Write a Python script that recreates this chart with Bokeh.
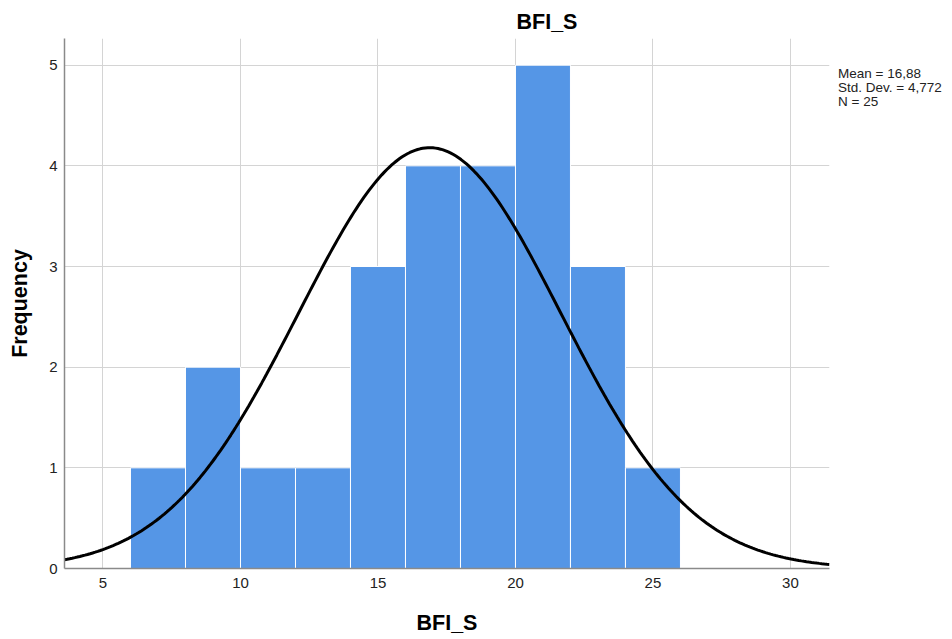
import numpy as np
from bokeh.plotting import figure
from bokeh.models import Range1d, FixedTicker, ColumnDataSource, Div
from bokeh.layouts import row
from bokeh.embed import file_html
from bokeh.resources import INLINE

# ---- data ----
bin_left = [6, 8, 10, 12, 14, 16, 18, 20, 22, 24]
bin_right = [8, 10, 12, 14, 16, 18, 20, 22, 24, 26]
counts = [1, 2, 1, 1, 3, 4, 4, 5, 3, 1]
mean_val = 16.88
sd_val = 4.772
n_val = 25
x_ticks = [5, 10, 15, 20, 25, 30]
y_ticks = [0, 1, 2, 3, 4, 5]
title_text = "BFI_S"
x_label = "BFI_S"
y_label = "Frequency"
stats_lines = ["Mean = 16,88", "Std. Dev. = 4,772", "N = 25"]

FONT = "Liberation Sans"
BIG = "21.5px"
X0, X1 = 3.6, 31.42
Y0, Y1 = 0, 5.265

p = figure(width=830, height=639, output_backend="svg", toolbar_location=None,
           x_range=Range1d(X0, X1), y_range=Range1d(Y0, Y1),
           min_border_left=64, min_border_right=1, min_border_top=38,
           min_border_bottom=71)
p.outline_line_color = None
p.background_fill_color = "white"
p.border_fill_color = "white"

# title
p.title.text = title_text
p.title.align = "left"
p.title.offset = 452
p.title.standoff = 9
p.title.text_font = FONT
p.title.text_font_size = BIG
p.title.text_font_style = "bold"
p.title.text_color = "black"

# grid
p.xgrid.ticker = FixedTicker(ticks=x_ticks)
p.ygrid.ticker = FixedTicker(ticks=y_ticks)
p.grid.grid_line_color = "#d4d4d4"
p.grid.grid_line_width = 1

src = ColumnDataSource(dict(left=bin_left, right=bin_right, top=counts))
p.quad(left="left", right="right", bottom=0, top="top", source=src,
       fill_color="#5596E6", line_color="white", line_width=1)

# normal curve fitted from the displayed mean / sd / N (bin width 2)
bw = bin_right[0] - bin_left[0]
xs = np.linspace(X0, X1, 300)
ys = n_val * bw / (sd_val * np.sqrt(2 * np.pi)) * np.exp(-0.5 * ((xs - mean_val) / sd_val) ** 2)
p.line(xs, ys, line_color="black", line_width=3)

# axes
for ax in (p.xaxis[0], p.yaxis[0]):
    ax.axis_line_color = "#8a8a8a"
    ax.axis_line_width = 1.5
    ax.major_tick_out = 0
    ax.major_tick_in = 0
    ax.minor_tick_out = 0
    ax.minor_tick_in = 0
    ax.major_tick_line_color = None
    ax.minor_tick_line_color = None
    ax.major_label_text_font = FONT
    ax.major_label_text_font_size = "15px"
    ax.major_label_text_color = "#222222"
    ax.axis_label_text_font = FONT
    ax.axis_label_text_font_size = BIG
    ax.axis_label_text_font_style = "bold"
    ax.axis_label_text_color = "black"

p.xaxis[0].ticker = FixedTicker(ticks=x_ticks)
p.yaxis[0].ticker = FixedTicker(ticks=y_ticks)
p.xaxis[0].axis_label = x_label
p.yaxis[0].axis_label = y_label
p.xaxis[0].major_label_standoff = 9
p.yaxis[0].major_label_standoff = 7
p.xaxis[0].axis_label_standoff = 20
p.yaxis[0].axis_label_standoff = 14

# statistics text to the right of the plot area
stats = Div(text="<br>".join(stats_lines), width=122, height=639, margin=(0, 0, 0, 0),
            styles={"padding-top": "67px", "padding-left": "8px",
                    "font-family": FONT, "font-size": "13.5px",
                    "line-height": "14px", "color": "#222222",
                    "white-space": "nowrap", "background": "white"})

layout = row(p, stats, spacing=0)
open("out.html", "w").write(file_html(layout, INLINE))
